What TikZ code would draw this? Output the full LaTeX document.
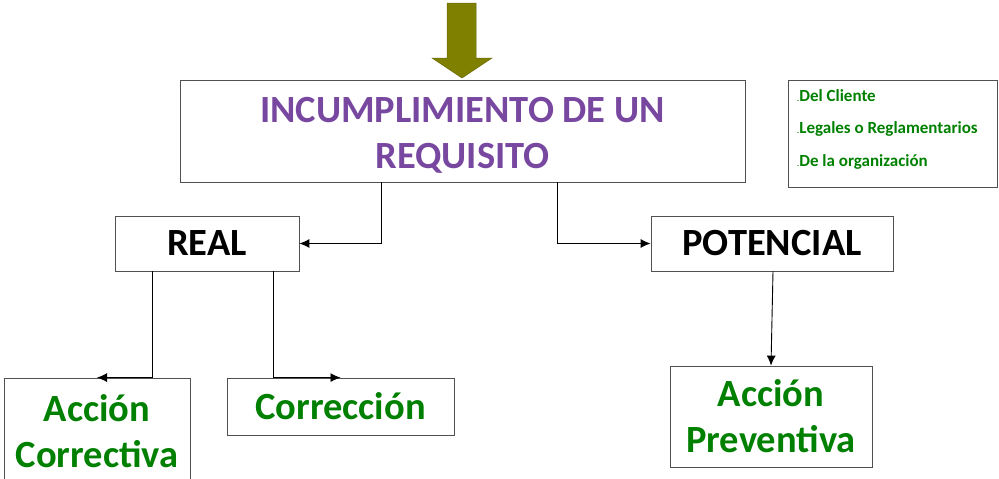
\documentclass[tikz,border=0pt]{standalone}
\usepackage{fontspec}
\setmainfont{Carlito}[BoldFont={Carlito Bold}]
\usetikzlibrary{arrows.meta}
\definecolor{olivearrow}{RGB}{128,128,0}
\definecolor{titlepurple}{RGB}{120,72,160}
\definecolor{txtgreen}{RGB}{0,128,0}
\definecolor{boxgray}{RGB}{80,80,80}
\tikzset{
  boxn/.style={draw=boxgray, line width=0.8pt, rectangle, inner sep=0pt, align=center, font=\bfseries},
  bigtxt/.style={font=\bfseries\fontsize{38.5}{46}\selectfont},
  conn/.style={line width=0.9pt, -{Latex[length=10pt,width=9pt]}},
}
\begin{document}
\begin{tikzpicture}[x=1pt,y=-1pt]
\useasboundingbox (0,0) rectangle (999,479);
% big arrow
\fill[olivearrow, draw=olivearrow!80!black, line width=0.5pt]
  (447,3) -- (476,3) -- (476,58) -- (492,58) -- (462,78) -- (432,58) -- (447,58) -- cycle;
% nodes
\node[boxn, minimum width=565pt, minimum height=102pt] (main) at (462.5,131) {};
\node[align=center, inner sep=0pt, text=titlepurple, bigtxt] (maintext) at ([yshift=-4pt]main.center) {INCUMPLIMIENTO DE UN\\REQUISITO};
\node[boxn, minimum width=209pt, minimum height=107pt] (info) at (892.5,133.5) {};
\node[anchor=west, align=left, text=txtgreen, font=\bfseries\fontsize{17}{32.5}\selectfont, inner sep=0pt] (infotext) at (797,129)
  {{\fontsize{8}{8}\selectfont.}Del Cliente\\{\fontsize{8}{8}\selectfont.}Legales o Reglamentarios\\{\fontsize{8}{8}\selectfont.}De la organización};
\node[boxn, minimum width=184pt, minimum height=55pt, bigtxt] (real) at (207,243.5) {REAL};
\node[boxn, minimum width=242pt, minimum height=55pt, bigtxt] (pot) at (772,243.5) {POTENCIAL};
\node[boxn, minimum width=186pt, minimum height=106pt, text=txtgreen, bigtxt] (ac) at (97,431) {Acción\\Correctiva};
\node[boxn, minimum width=227pt, minimum height=57pt, text=txtgreen, bigtxt] (corr) at (340.5,406.5) {Corrección};
\node[boxn, minimum width=202pt, minimum height=101pt, text=txtgreen, bigtxt] (ap) at (771,416.5) {Acción\\Preventiva};
% connectors
\draw[conn] ([xshift=-81.5pt]main.south) |- (real.east);
\draw[conn] ([xshift=94.5pt]main.south) |- (pot.west);
\draw[conn] ([xshift=-55pt]real.south) |- (ac.north);
\draw[conn] ([xshift=66pt]real.south) |- (corr.north);
\draw[conn] ([xshift=1pt]pot.south) -- (ap.north);
\end{tikzpicture}
\end{document}
